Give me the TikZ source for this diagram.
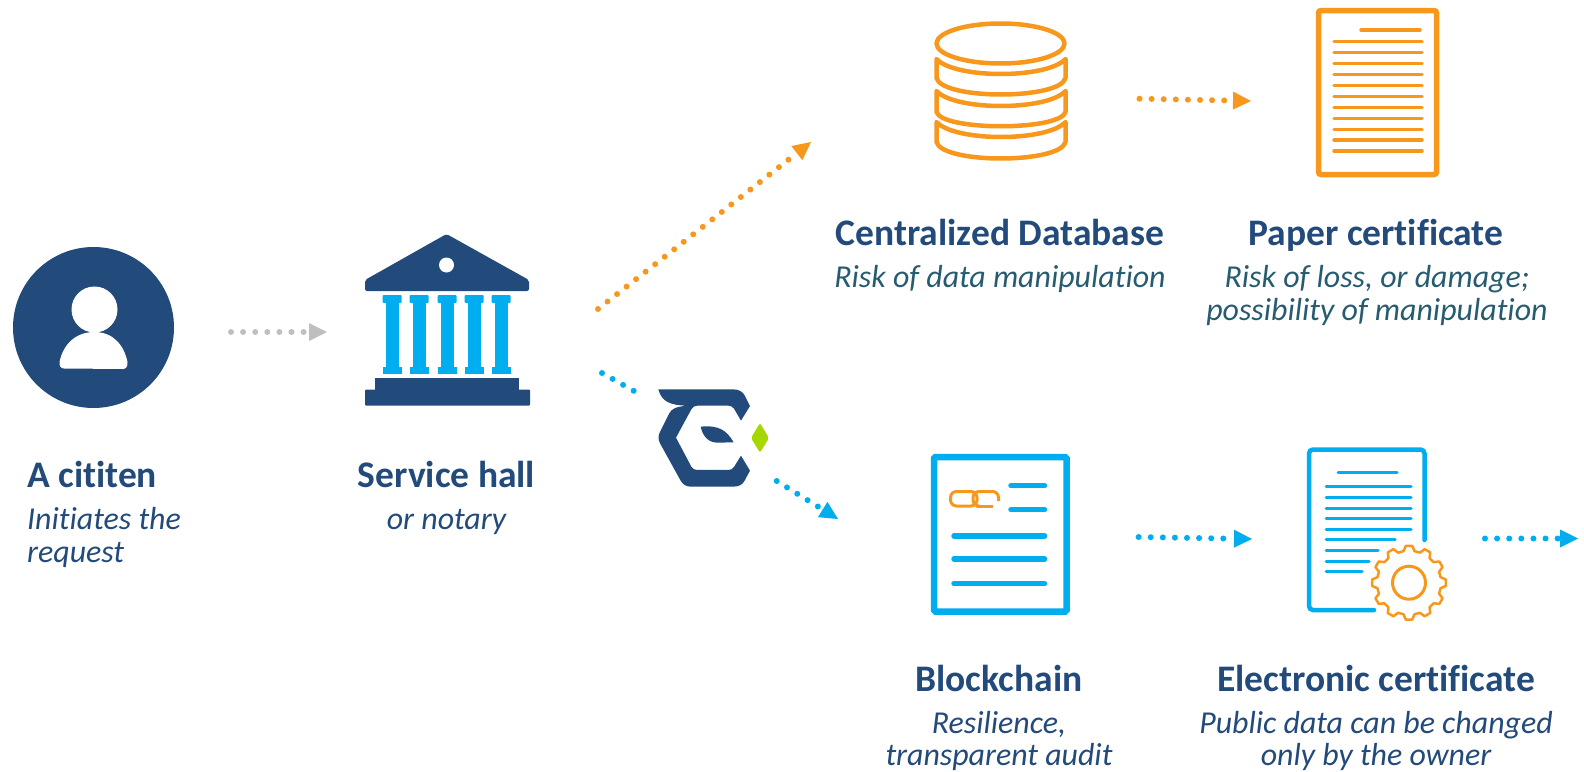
\documentclass[tikz,border=0pt]{standalone}
\usepackage{fontspec}
\setmainfont{Carlito}[Ligatures=NoCommon]
\usetikzlibrary{arrows.meta}
\definecolor{navy}{HTML}{224A7A}
\definecolor{teal2}{HTML}{265B70}
\definecolor{sky}{HTML}{00AEEF}
\definecolor{orng}{HTML}{F7981D}
\definecolor{gry}{HTML}{BFBFBF}
\definecolor{lime}{HTML}{A6D800}
\tikzset{
  dotline/.style={line width=6pt,line cap=round,dash pattern=on 0pt off 12.1pt},
  dotarrow/.style={dotline,-{Triangle[length=18pt,width=18pt,line width=0pt,round=false]}},
  ttl/.style={font=\fontsize{37.5}{41}\selectfont\bfseries,text=navy,anchor=base,inner sep=0pt},
  subt/.style={font=\fontsize{31.9}{35}\selectfont\itshape,text=navy,anchor=base,inner sep=0pt},
  subtb/.style={subt,text=teal2},
  docline/.style={line cap=round,line width=#1},
  docline/.default=3.5pt,
}
\begin{document}
\begin{tikzpicture}[x=1pt,y=-1pt]
\useasboundingbox (0,0) rectangle (1584,771);
% person
\fill[navy] (93.5,327.5) circle[radius=80.5];
\fill[white] (94.5,309.5) circle[radius=23];
\fill[white] (94.5,332) .. controls (75,332) and (63,345) .. (59.5,362) .. controls (59,366) and (61,368.5) .. (64,368.5) -- (123,369) .. controls (126,369) and (128,366) .. (127.5,362) .. controls (124,345) and (113,332) .. (94.5,332) -- cycle;
% bank
\fill[navy,rounded corners=2pt] (446.5,234) -- (529,280) -- (529,291) -- (365,291) -- (365,280) -- cycle;
\fill[white] (446.5,265) circle[radius=7.5];
\foreach \cx in {392,419,447,474,501}{
  \fill[sky] (\cx-6.5,300) rectangle (\cx+6.5,370);
  \fill[sky,rounded corners=1pt] (\cx-9.5,295) rectangle (\cx+9.5,303);
  \fill[sky] (\cx-9.5,367) rectangle (\cx+9.5,374);
}
\fill[navy] (375,378) rectangle (519,390);
\fill[navy,rounded corners=1pt] (365,389.5) rectangle (530,405.5);
% logo
\begin{scope}[shift={(580,350)},x=0.3333pt,y=-0.3333pt]
\fill[navy] (235,118) -- (460,118) .. controls (478,118) and (488,126) .. (494,136) -- (510,168) -- (483,212) -- (462,176) .. controls (458,170) and (452,167) .. (445,167) -- (352,167) .. controls (344,167) and (338,171) .. (334,178) -- (288,263) -- (334,350) .. controls (338,357) and (344,360) .. (352,360) -- (445,360) .. controls (452,360) and (458,357) .. (462,351) -- (483,317) -- (510,362) -- (494,392) .. controls (488,403) and (478,410) .. (460,410) -- (332,410) .. controls (318,410) and (308,403) .. (302,392) -- (240,280) .. controls (234,268) and (234,256) .. (240,246) -- (268,190) .. controls (274,178) and (285,170) .. (322,167) .. controls (270,166) and (245,155) .. (235,118) -- cycle;
\fill[navy] (362,230) .. controls (415,225) and (440,240) .. (461,277) -- (412,278) .. controls (385,278) and (368,258) .. (362,230) -- cycle;
\fill[lime,rounded corners=2pt] (540,219) -- (567,264) -- (540,308) -- (513,264) -- cycle;
\end{scope}
% database
\begin{scope}[orng,line width=4.5pt,line join=round]
\draw (1000.5,43.5) ellipse[x radius=64,y radius=20];
\foreach \t/\s/\b/\g in {59/78/97/75, 91/112/128/107, 122/142/161/138}{
  \draw (936.5,\t) .. controls (955,\g+4) and (1047,\g+4) .. (1065.5,\t) -- (1065.5,\s) .. controls (1060,\b+3) and (942,\b+3) .. (936.5,\s) -- cycle;
}
\end{scope}
% paper certificate
\draw[orng,line width=5.5pt,rounded corners=2.5pt] (1318.5,10.5) rectangle (1436.5,174.5);
\draw[orng,docline] (1361,30) -- (1420,30);
\foreach \y in {41.7,52.7,63.7,74.7,85.3,96.3,107.7,118.3,129.3,140,151}{
  \draw[orng,docline] (1334,\y) -- (1422,\y);
}
% blockchain doc
\draw[sky,line width=6.5pt,rounded corners=1.5pt] (934,457) rectangle (1066.5,611.5);
\foreach \y in {485.7,509.7}{\draw[sky,docline=5.5pt] (1011,\y) -- (1044.5,\y);}
\foreach \y in {536,559,583.7}{\draw[sky,docline=5.5pt] (954,\y) -- (1044.5,\y);}
\draw[orng,line width=3pt,rounded corners=6pt] (950.5,491.5) rectangle (977,506);
\draw[orng,line width=3pt,rounded corners=6pt] (976,506) -- (973,506) -- (973,491.5) -- (998.5,491.5) -- (998.5,501);
\draw[orng,line width=2.5pt] (977,506.5) -- (993,506.5);
% electronic cert
\draw[sky,line width=4.5pt,line cap=round,rounded corners=4pt] (1424.5,540) -- (1424.5,449.5) -- (1309,449.5) -- (1309,610) -- (1374,610);
\draw[sky,docline=3pt] (1338,472) -- (1397,472);
\foreach \y in {486.3,497,508,518.3,529.3}{\draw[sky,docline=3pt] (1326,\y) -- (1411,\y);}
\draw[sky,docline=3pt] (1326,539.3) -- (1395,539.3);
\draw[sky,docline=3pt] (1326,550.7) -- (1378,550.7);
\draw[sky,docline=3pt] (1326,561) -- (1369,561);
\draw[sky,docline=3pt] (1326,571.7) -- (1362,571.7);
\fill[white] (1409,582.7) circle[radius=34];
\draw[orng,line width=2.5pt,line join=round,shift={(1409,582.7)}] (5:37)
  \foreach \a in {0,30,...,330}{ -- (\a+5:37) -- (\a+10:32) -- (\a+20:32) -- (\a+25:37)} -- cycle;
\draw[orng,line width=3pt] (1409,582.7) circle[radius=16.5];
% arrow end points
\coordinate (pA) at (231,332);
\coordinate (pB) at (327,332);
\coordinate (hA) at (598,309);
\coordinate (hB) at (811,142);
\coordinate (dA) at (1139.5,98.7);
\coordinate (dB) at (1251,101);
\coordinate (bA) at (602,373);
\coordinate (bB) at (634,391);
\coordinate (lA) at (776.7,481);
\coordinate (lB) at (838,519);
\coordinate (eA) at (1138.6,537);
\coordinate (eB) at (1252,539);
\coordinate (xA) at (1485,538.5);
\coordinate (xB) at (1578,538.5);
\draw[gry,dotarrow] (pA) -- (pB);
\draw[orng,dotarrow] (hA) -- (hB);
\draw[orng,dotarrow] (dA) -- (dB);
\draw[sky,dotline] (bA) -- (bB);
\draw[sky,dotarrow] (lA) -- (lB);
\draw[sky,dotarrow] (eA) -- (eB);
\draw[sky,dotarrow] (xA) -- (xB);
% texts
\node[ttl,anchor=base west] (t1) at (27,487) {A cititen};
\node[subt,anchor=base west] (s1a) at (27,529.5) {Initiates the};
\node[subt,anchor=base west] (s1b) at (27,562.5) {request};
\node[ttl] (t2) at (446.5,487) {Service hall};
\node[subt] (s2) at (446.5,529.5) {or notary};
\node[ttl] (t3) at (1000,245) {Centralized Database};
\node[subtb] (s3) at (1000,287.5) {Risk of data manipulation};
\node[ttl] (t4) at (1376,245) {Paper certificate};
\node[subtb] (s4a) at (1377,287.5) {Risk of loss, or damage;};
\node[subtb] (s4b) at (1377,320.5) {possibility of manipulation};
\node[ttl] (t5) at (999,691) {Blockchain};
\node[subt] (s5a) at (999,733.5) {Resilience,};
\node[subt] (s5b) at (999,765.5) {transparent audit};
\node[ttl] (t6) at (1376,691) {Electronic certificate};
\node[subt] (s6a) at (1376,733.5) {Public data can be changed};
\node[subt] (s6b) at (1376,765.5) {only by the owner};
\end{tikzpicture}
\end{document}
